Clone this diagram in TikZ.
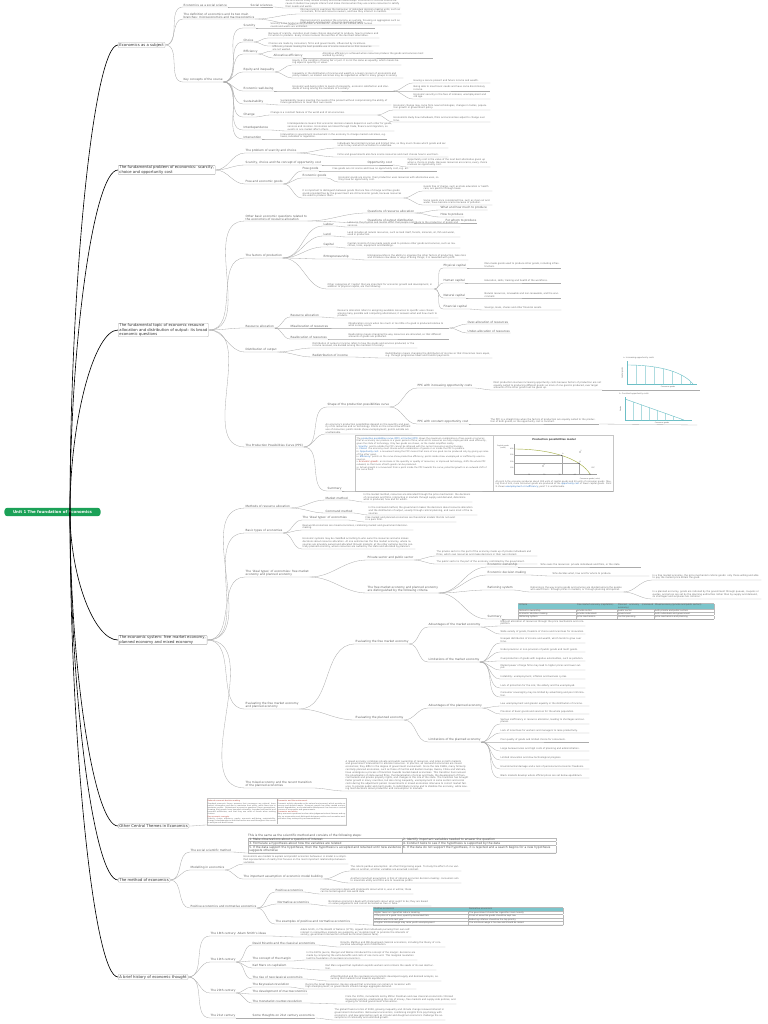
\documentclass[tikz,border=0pt]{standalone}
\usepackage{fontspec}
\setmainfont{DejaVu Sans}
\usepackage{array,colortbl}
\definecolor{mapgreen}{HTML}{1BA157}
\definecolor{mapteal}{HTML}{7CC5CB}
\definecolor{chartteal}{HTML}{6DBFC6}
\definecolor{linkblue}{HTML}{2A6EBB}
\definecolor{ppcolive}{HTML}{A3AE45}
\definecolor{notered}{HTML}{B03A2E}
\arrayrulecolor{gray!55}
\setlength{\tabcolsep}{1.2pt}

\begin{document}
\begin{tikzpicture}[x=0.5mm,y=-0.5mm]
\tikzset{
  rootnode/.style={fill=mapgreen,text=white,rounded corners=4pt,font=\bfseries\fontsize{5.6}{6}\selectfont,minimum width=48mm,minimum height=4.2mm,inner sep=0.5pt},
  topic/.style={draw=gray!60,fill=white,rounded corners=1.2pt,line width=0.5pt,font=\fontsize{5.4}{5.9}\selectfont,text=black!80,align=left,anchor=west,inner xsep=1.8pt,inner ysep=1pt},
  subtopic/.style={font=\fontsize{4.1}{4.7}\selectfont,text=black!62,anchor=south west,align=left,inner xsep=0.8pt,inner ysep=0.6pt},
  paranode/.style={subtopic,font=\fontsize{3.3}{3.95}\selectfont,text=black!58,text width=#1},
  paranode/.default=52mm,
  tablenode/.style={anchor=south west,inner sep=0pt,align=left,text=black!68,font=\fontsize{3}{3.6}\selectfont},
  trunk/.style={black,line width=0.9pt},
  twig/.style={gray!65,line width=0.45pt},
  chartline/.style={chartteal,line width=0.45pt},
  chartgrid/.style={chartteal!55,line width=0.3pt},
  ticklabel/.style={font=\fontsize{2.4}{2.8}\selectfont,text=black!65,inner sep=0.6pt},
  guide/.style={gray!70,line width=0.25pt,dash pattern=on 0.6pt off 0.5pt}
}
\fill[white] (0,0) rectangle (768,1024);
\useasboundingbox (0,0) rectangle (768,1024);

\node[rootnode] (root) at (52.5,512) {Unit 1 The foundation of Economics};
\coordinate (hub) at (70,512);

\node[topic] (t_subject) at (118,45) {Economics as a subject};
\node[topic] (t_problem) at (118,170) {The fundamental problem of economics: scarcity,\\choice and opportunity cost};
\node[topic] (t_alloc) at (118,330) {The fundamental topic of economic resource\\allocation and distribution of output: its broad\\economic questions};
\node[topic] (t_system) at (118,640) {The economic system: free market economy,\\planned economy and mixed economy};
\node[topic] (t_themes) at (118,826) {Other Central Themes in Economics};
\node[topic] (t_method) at (118,880) {The method of economics};
\node[topic] (t_history) at (118,977) {A brief history of economic thought};

\foreach \t/\c in {t_subject/278,t_problem/341,t_alloc/421,t_system/576,t_themes/669,t_method/696,t_history/744}
  \draw[trunk] (hub) .. controls (70,\c) and ([xshift=-12mm]\t.west) .. (\t.west);

\node[subtopic] (s_socsci) at (183,7) {Economics as a social science};
\node[subtopic] (s_socsc2) at (250,7) {Social sciences};
\node[paranode=57mm] (p_socsci) at (285,8) {Social sciences study human society and social relationships. Economics is a social science because it studies how people interact and make choices when they use scarce resources to satisfy their needs and wants.};
\node[subtopic] (s_defn) at (183,19) {The definition of economics and its two main\\branches: microeconomics and macroeconomics};
\node[paranode=50mm] (p_micro) at (300,14) {Microeconomics examines the behaviour of individual decision-making units, such as consumers, firms and resource owners, and how they interact in markets.};
\node[paranode=50mm] (p_macro) at (300,25) {Macroeconomics examines the economy as a whole, focusing on aggregates such as total output, employment, the price level and growth.};
\node[subtopic] (s_key) at (183,82) {Key concepts of the course};
\node[subtopic] (k_scar) at (243,28) {Scarcity};
\node[paranode=52mm] (p_scar) at (270,28) {Scarcity is the fundamental problem of economics: resources are limited, while human needs and wants are unlimited.};
\node[subtopic] (k_choice) at (243,42) {Choice};
\node[paranode=55mm] (p_choice1) at (268,38) {Because of scarcity, societies must make choices about what to produce, how to produce and for whom to produce. Every choice involves the sacrifice of the next best alternative.};
\node[paranode=55mm] (p_choice2) at (268,46) {Choices are made by consumers, firms and governments, influenced by incentives.};
\node[subtopic] (k_eff) at (243,54) {Efficiency};
\node[paranode=50mm] (p_eff) at (272,51) {Efficiency means making the best possible use of scarce resources so that resources are not wasted.};
\node[subtopic] (k_alloceff) at (273,58) {Allocative efficiency};
\node[paranode=55mm] (p_alloceff) at (322,58) {Allocative efficiency is achieved when resources produce the goods and services most wanted by society.};
\node[subtopic] (k_equity) at (243,72) {Equity and inequality};
\node[paranode=54mm] (p_eq1) at (292,65) {Equity is the condition of being fair or just. It is not the same as equality, which means being equal in quantity or value.};
\node[paranode=55mm] (p_eq2) at (292,78) {Inequality in the distribution of income and wealth is a major concern of economists and policy-makers, as market outcomes may be regarded as unfair to many groups in society.};
\node[subtopic] (k_well) at (243,91) {Economic well-being};
\node[paranode=50mm] (p_well) at (292,91) {Economic well-being refers to levels of prosperity, economic satisfaction and standards of living among the members of a society.};
\node[paranode=38mm] (p_well1) at (413,83) {Having a secure present and future income and wealth.};
\node[paranode=38mm] (p_well2) at (413,91) {Being able to meet basic needs and have some discretionary income.};
\node[paranode=38mm] (p_well3) at (413,99) {Economic security in the face of sickness, unemployment and old age.};
\node[subtopic] (k_sust) at (243,104) {Sustainability};
\node[paranode=55mm] (p_sust) at (280,105) {Sustainability means meeting the needs of the present without compromising the ability of future generations to meet their own needs.};
\node[subtopic] (k_change) at (243,117) {Change};
\node[paranode=53mm] (p_change) at (270,115) {Change is a constant feature of the world and of all economies.};
\node[paranode=48mm] (p_ch1) at (393,110) {Economic change may come from new technologies, changes in tastes, population growth or government policy.};
\node[paranode=48mm] (p_ch2) at (393,122) {Economists study how individuals, firms and economies adjust to change over time.};
\node[subtopic] (k_inter) at (243,130) {Interdependence};
\node[paranode=53mm] (p_inter) at (287,131) {Interdependence means that economic decision-makers depend on each other for goods, services and incomes. Economies are linked through trade, finance and migration, so events in one market affect others.};
\node[subtopic] (k_interv) at (243,139) {Intervention};
\node[paranode=53mm] (p_interv) at (280,139) {Intervention is government involvement in the economy to change market outcomes, e.g. taxes, subsidies or regulation.};

\node[subtopic] (c_indiv) at (245,153) {The problem of scarcity and choice};
\node[paranode=55mm] (p_indiv1) at (337,148) {Individuals face limited incomes and limited time, so they must choose which goods and services to buy and which activities to undertake.};
\node[paranode=55mm] (p_indiv2) at (337,157) {Firms and governments also face scarce resources and must choose how to use them.};
\node[subtopic] (c_opp) at (245,165) {Scarcity, choice and the concept of opportunity cost};
\node[subtopic] (c_oppcost) at (367,165) {Opportunity cost};
\node[paranode=41mm] (p_opp) at (407,167) {Opportunity cost is the value of the next best alternative given up when a choice is made. Because resources are scarce, every choice involves an opportunity cost.};
\node[subtopic] (c_goods) at (245,184) {Free and economic goods};
\node[subtopic] (g_free) at (302,171) {Free goods};
\node[paranode=52mm] (p_free) at (332,171) {Free goods are not scarce and have no opportunity cost, e.g. air.};
\node[subtopic] (g_econ) at (302,178) {Economic goods};
\node[paranode=50mm] (p_econ) at (338,182) {Economic goods are scarce: their production uses resources with alternative uses, so they have an opportunity cost.};
\node[paranode=50mm] (p_distinct) at (302,198) {It is important to distinguish between goods that are free of charge and free goods: goods provided free by the government are still economic goods, because resources are used to produce them.};
\node[paranode=34mm] (p_d1) at (423,191) {Goods free of charge, such as state education or health care, are paid for through taxes.};
\node[paranode=34mm] (p_d2) at (423,205) {Some goods once considered free, such as clean air and water, have become scarce because of pollution.};

\node[subtopic] (q_basic) at (245,221) {Other basic economic questions related to\\the economics of resource allocation};
\node[subtopic] (q_alloc) at (367,213) {Questions of resource allocation};
\node[subtopic] (q_what) at (440,210) {What and how much to produce};
\node[subtopic] (q_how) at (440,217) {How to produce};
\node[subtopic] (q_dist) at (367,223) {Questions of output distribution};
\node[subtopic] (q_whom) at (445,223) {For whom to produce};
\node[subtopic] (f_factors) at (245,258) {The factors of production};
\node[subtopic] (f_labour) at (323,226) {Labour};
\node[paranode=56mm] (p_labour) at (347,227) {Labour is the physical and mental effort that people contribute to the production of goods and services.};
\node[subtopic] (f_land) at (323,236) {Land};
\node[paranode=56mm] (p_land) at (347,237) {Land includes all natural resources, such as land itself, forests, minerals, oil, fish and water, used in production.};
\node[subtopic] (f_capital) at (323,247) {Capital};
\node[paranode=56mm] (p_capital) at (347,248) {Capital consists of man-made goods used to produce other goods and services, such as machines, tools, equipment and buildings.};
\node[subtopic] (f_entre) at (323,259) {Entrepreneurship};
\node[paranode=50mm] (p_entre) at (367,260) {Entrepreneurship is the ability to organise the other factors of production, take risks and introduce new ideas or ways of doing things; it is rewarded with profit.};
\node[paranode=53mm] (p_other) at (327,289) {Other categories of `capital' that are important for economic growth and development, in addition to physical capital, are the following:};
\node[subtopic] (f_phys) at (443,268) {Physical capital};
\node[paranode=38mm] (p_phys) at (484,268) {Man-made goods used to produce other goods, including infrastructure.};
\node[subtopic] (f_human) at (443,283) {Human capital};
\node[paranode=38mm] (p_human) at (484,283) {Education, skills, training and health of the workforce.};
\node[subtopic] (f_nat) at (443,298) {Natural capital};
\node[paranode=38mm] (p_nat) at (484,298) {Natural resources, renewable and non-renewable, and the environment.};
\node[subtopic] (f_fin) at (443,309) {Financial capital};
\node[paranode=38mm] (p_fin) at (484,310) {Savings, loans, shares and other financial assets.};

\node[subtopic] (r_alloc) at (245,328) {Resource allocation};
\node[subtopic] (r_res) at (290,317) {Resource allocation};
\node[paranode=50mm] (p_res) at (337,318) {Resource allocation refers to assigning available resources to specific uses chosen among many possible and competing alternatives; it answers what and how much to produce.};
\node[subtopic] (r_mis) at (290,328) {Misallocation of resources};
\node[paranode=50mm] (p_mis) at (348,328) {Misallocation occurs when too much or too little of a good is produced relative to what society wants.};
\node[subtopic] (r_over) at (467,324) {Over-allocation of resources};
\node[subtopic] (r_under) at (467,333) {Under-allocation of resources};
\node[subtopic] (r_realloc) at (290,339) {Reallocation of resources};
\node[paranode=50mm] (p_realloc) at (348,339) {Reallocation means changing the way resources are allocated, so that different amounts of goods are produced.};
\node[subtopic] (d_dist) at (245,352) {Distribution of output};
\node[paranode=52mm] (p_dist) at (312,348) {Distribution of output or income refers to how the goods and services produced, or the income received, are divided among the members of society.};
\node[subtopic] (d_redist) at (312,357) {Redistribution of income};
\node[paranode=53mm] (p_redist) at (385,358) {Redistribution means changing the distribution of income so that it becomes more equal, e.g. through progressive taxes and transfer payments.};

\node[subtopic] (ppc) at (245,447) {The Production Possibilities Curve (PPC)};
\node[subtopic] (ppc_shape) at (327,407) {Shape of the production possibilities curve};
\node[subtopic] (ppc_inc) at (417,388) {PPC with increasing opportunity costs};
\node[paranode=54mm] (p_inc) at (493,390) {Most production involves increasing opportunity costs because factors of production are not equally suited to producing different goods; as more of one good is produced, ever larger amounts of the other good must be given up.};
\node[subtopic] (ppc_const) at (417,424) {PPC with constant opportunity cost};
\node[paranode=54mm] (p_const) at (490,424) {The PPC is a straight line when the factors of production are equally suited to the production of both goods, so the opportunity cost is constant.};
\node[paranode=43mm] (p_ppc) at (325,434) {An economy's production possibilities depend on the quantity and quality of its resources and on technology. Points on the curve show efficient use of resources; points inside show unemployment; points outside are unattainable.};
\node[subtopic] (ppc_sum) at (327,491) {Summary};
\node[draw=gray!45,line width=0.4pt,anchor=south west,minimum width=129mm,minimum height=28mm,inner sep=0pt] (box_ppc) at (355,491) {};
\node[paranode=66mm,anchor=north west,font=\fontsize{3.1}{3.75}\selectfont] (ppc_text) at (356,437) {The \textcolor{linkblue}{production possibilities curve (PPC) or frontier (PPF)} shows the maximum combinations of two goods or services that an economy can produce in a given period of time, when all its resources are fully employed and used efficiently, given the state of technology. Only two goods are shown, so the model simplifies reality.\\
i.\ \textcolor{linkblue}{Scarcity}: points outside the PPC cannot be attained with the current resources and technology.\\
ii.\ \textcolor{linkblue}{Choice}: the economy must choose which combination of goods on or inside the PPC to produce.\\
iii.\ \textcolor{linkblue}{Opportunity cost}: a movement along the PPC means that more of one good can be produced only by giving up some of the other good.\\
iv.\ \textcolor{linkblue}{Efficiency}: points on the curve show productive efficiency; points inside show unemployed or inefficiently used resources.\\
v.\ \textcolor{notered}{Economic growth}: an increase in the quantity or quality of resources, or improved technology, shifts the whole PPC outward, so that more of both goods can be produced.\\
vi.\ Actual growth is a movement from a point inside the PPC towards the curve; potential growth is an outward shift of the curve itself.};
\draw[gray!45,line width=0.4pt] (493,435) -- (493,491);
\node[font=\bfseries\fontsize{3.6}{4}\selectfont,text=black!75] (ppc_title) at (554,440) {Production possibilities model};
\node[ticklabel,align=center] (ppc_ylab) at (503,447) {Capital goods\\(units)};
\coordinate (ax_o) at (514,474);
\draw[gray!75,line width=0.4pt] (514,444) -- (ax_o) -- (597,474);
\draw[ppcolive,line width=0.6pt] (514,449) .. controls (550,449) and (580,458) .. (590,474) coordinate[pos=0.5] (pp_a) coordinate[pos=0.75] (pp_b);
\foreach \v/\yy in {100/467.75,200/461.5,300/455.25,400/449}
  \node[ticklabel,anchor=east] (ty\v) at (514,\yy) {\v};
\foreach \v/\xx in {10/529.2,20/544.4,30/559.6,40/574.8,50/590}
  \node[ticklabel,anchor=north] (tx\v) at (\xx,474) {\v};
\draw[guide] (pp_a) -- (pp_a -| ax_o);
\draw[guide] (pp_a) -- (pp_a |- ax_o);
\draw[guide] (pp_b) -- (pp_b -| ax_o);
\draw[guide] (pp_b) -- (pp_b |- ax_o);
\fill[black!70] (pp_a) circle[radius=0.35mm];
\fill[black!70] (pp_b) circle[radius=0.35mm];
\fill[black!70] (543,466) coordinate (pp_x) circle[radius=0.35mm];
\fill[black!70] (580,452) coordinate (pp_y) circle[radius=0.35mm];
\node[ticklabel,anchor=south west] (lab_a) at (pp_a) {A};
\node[ticklabel,anchor=south west] (lab_b) at (pp_b) {B};
\node[ticklabel,anchor=south west] (lab_x) at (pp_x) {X};
\node[ticklabel,anchor=south west] (lab_y) at (pp_y) {Y};
\node[ticklabel,anchor=west] (lab_ppc) at (591,468) {PPC};
\node[ticklabel] (ppc_xlab) at (590,479) {Consumer goods (units)};
\node[paranode=58mm,anchor=north west,font=\fontsize{3.1}{3.75}\selectfont] (ppc_caption) at (495,480) {At point A the economy produces about 300 units of capital goods and 30 units of consumer goods. Moving from A to B, more consumer goods are produced at the \textcolor{linkblue}{opportunity cost} of fewer capital goods. Point X shows \textcolor{linkblue}{unemployment or inefficiency}; point Y is unattainable.};

\node[font=\fontsize{2.8}{3}\selectfont,text=black!60,anchor=west] (cap_inc) at (621,358) {a\ \ Increasing opportunity costs};
\draw[chartline] (627,361) -- (627,384) -- (697,384);
\begin{scope}
  \clip (627,384) -- (627,365) .. controls (662,365) and (684,373) .. (693,384) -- cycle;
  \foreach \gx in {636,645,...,690} \draw[chartgrid] (\gx,360) -- (\gx,386);
\end{scope}
\draw[chartline,line width=0.6pt] (627,365) .. controls (662,365) and (684,373) .. (693,384);
\node[ticklabel,rotate=90] (lab_cap1) at (622.5,373) {Capital goods};
\node[ticklabel] (lab_con1) at (668,387) {Consumer goods};
\node[font=\fontsize{2.8}{3}\selectfont,text=black!60,anchor=west] (cap_const) at (617,394) {b\ \ Constant opportunity costs};
\draw[chartline] (625,397) -- (625,420) -- (692,420);
\begin{scope}
  \clip (625,420) -- (625,399) -- (684,420) -- cycle;
  \foreach \gx in {633,641,...,684} \draw[chartgrid] (\gx,396) -- (\gx,421);
\end{scope}
\draw[chartline,line width=0.6pt] (625,399) -- (684,420);
\node[ticklabel,rotate=90] (lab_cap2) at (620.5,409) {Goods};
\node[ticklabel] (lab_con2) at (662,423) {Consumer goods};
\coordinate (inc_end) at (700,390);
\coordinate (const_end) at (697,425);
\draw[twig] (p_inc.south east) -- (inc_end);
\draw[twig] (p_const.south east) -- (const_end);

\node[subtopic] (m_methods) at (245,508) {Methods of resource allocation};
\node[subtopic] (m_market) at (325,500) {Market method};
\node[paranode=54mm] (p_market) at (363,502) {In the market method, resources are allocated through the price mechanism: the decisions of consumers and firms, interacting in markets through supply and demand, determine what is produced, how and for whom.};
\node[subtopic] (m_command) at (325,513) {Command method};
\node[paranode=54mm] (p_command) at (368,515) {In the command method, the government makes the decisions about resource allocation and the distribution of output, usually through central planning, and owns most of the resources.};
\node[subtopic] (b_types) at (245,533) {Basic types of economies};
\node[subtopic] (b_ideal) at (302,520) {The `ideal types' of economies};
\node[paranode=45mm] (p_ideal) at (365,522) {Free market and planned economies are theoretical models that do not exist in a pure form.};
\node[paranode=55mm] (p_types1) at (302,530) {Real-world economies are mixed economies, combining market and government decision-making.};
\node[paranode=56mm] (p_types2) at (302,549) {Economic systems may be classified according to who owns the resources and who makes decisions about resource allocation. At one extreme lies the free market economy, where resources are privately owned and allocated through markets; at the other extreme lies the centrally planned economy, where resources are owned by the state and allocated by planners.};
\node[subtopic] (f_ideal) at (245,577) {The `ideal types' of economies: free market\\economy and planned economy};
\node[subtopic] (f_sector) at (367,560) {Private sector and public sector};
\node[paranode=50mm] (p_priv) at (436,556) {The private sector is the part of the economy made up of private individuals and firms, which own resources and make decisions in their own interest.};
\node[paranode=50mm] (p_pub) at (436,564) {The public sector is the part of the economy controlled by the government.};
\node[subtopic] (f_compare) at (367,593) {The free market economy and planned economy\\are distinguished by the following criteria};
\node[subtopic] (f_own) at (487,567) {Economic ownership};
\node[paranode=50mm] (p_own) at (540,567) {Who owns the resources: private individuals and firms, or the state.};
\node[subtopic] (f_dec) at (487,575) {Economic decision making};
\node[paranode=48mm] (p_dec) at (552,576) {Who decides what, how and for whom to produce.};
\node[subtopic] (f_ration) at (487,590) {Rationing system};
\node[paranode=46mm] (p_ration) at (530,592) {Rationing is the way scarce goods and services are divided among the people who want them: through prices in markets, or through planning and quotas.};
\node[paranode=54mm] (p_r1) at (652,580) {In a free market economy, the price mechanism rations goods: only those willing and able to pay the market price obtain the good.};
\node[paranode=54mm] (p_r2) at (652,599) {In a planned economy, goods are rationed by the government through queues, coupons or quotas, and prices are set by the planning authorities rather than by supply and demand, so shortages and surpluses are common.};
\node[subtopic] (f_summary) at (487,619) {Summary};
\node[tablenode] (tbl_sys) at (518,619) {\renewcommand\arraystretch{1.15}\begin{tabular}{|p{28mm}|p{19.5mm}|p{17.5mm}|p{29mm}|}\hline
\rowcolor{mapteal} Criteria & Free market economy (capitalism) & Planned economy (command economy) & Mixed economy (private and public sectors)\\\hline
Resource ownership & private sector & public sector & both private and public sectors\\\hline
Economic decision making & private individuals & government & both individuals and government\\\hline
Rationing system & price mechanism & central planning & price mechanism and planning\\\hline
\end{tabular}};
\node[subtopic] (e_eval) at (245,709) {Evaluating the free market economy\\and planned economy};
\node[subtopic] (e_free) at (355,644) {Evaluating the free market economy};
\node[subtopic] (e_fadv) at (428,627) {Advantages of the market economy};
\node[paranode=42mm] (p_fa1) at (500,626) {Efficient allocation of resources through the price mechanism and competition.};
\node[paranode=42mm] (p_fa2) at (500,634) {Wide variety of goods, freedom of choice and incentives for innovation.};
\node[subtopic] (e_flim) at (428,662) {Limitations of the market economy};
\node[paranode=42mm] (p_fl1) at (500,643) {Unequal distribution of income and wealth, which tends to grow over time.};
\node[paranode=42mm] (p_fl2) at (500,652) {Under-provision or non-provision of public goods and merit goods.};
\node[paranode=42mm] (p_fl3) at (500,661) {Overproduction of goods with negative externalities, such as pollution.};
\node[paranode=42mm] (p_fl4) at (500,670) {Market power of large firms may lead to higher prices and lower output.};
\node[paranode=42mm] (p_fl5) at (500,679) {Instability: unemployment, inflation and business cycles.};
\node[paranode=42mm] (p_fl6) at (500,688) {Lack of protection for the sick, the elderly and the unemployed.};
\node[paranode=42mm] (p_fl7) at (500,697) {Consumer sovereignty may be limited by advertising and poor information.};
\node[subtopic] (e_plan) at (355,720) {Evaluating the planned economy};
\node[subtopic] (e_padv) at (428,708) {Advantages of the planned economy};
\node[paranode=44mm] (p_pa1) at (500,706) {Low unemployment and greater equality in the distribution of income.};
\node[paranode=44mm] (p_pa2) at (500,714) {Provision of basic goods and services for the whole population.};
\node[subtopic] (e_plim) at (428,742) {Limitations of the planned economy};
\node[paranode=44mm] (p_pl1) at (500,724) {Serious inefficiency in resource allocation, leading to shortages and surpluses.};
\node[paranode=44mm] (p_pl2) at (500,733) {Lack of incentives for workers and managers to raise productivity.};
\node[paranode=44mm] (p_pl3) at (500,742) {Poor quality of goods and limited choice for consumers.};
\node[paranode=44mm] (p_pl4) at (500,751) {Large bureaucracies and high costs of planning and administration.};
\node[paranode=44mm] (p_pl5) at (500,760) {Limited innovation and slow technological progress.};
\node[paranode=44mm] (p_pl6) at (500,769) {Environmental damage and a lack of personal and economic freedoms.};
\node[paranode=44mm] (p_pl7) at (500,778) {Black markets develop where official prices are set below equilibrium.};
\node[subtopic] (x_mixed) at (245,788) {The mixed economy and the recent transition\\of the planned economies};
\node[paranode=62mm] (p_mixed) at (345,791) {A mixed economy combines private and public ownership of resources, and relies on both markets and government intervention to allocate resources. In practice, all real-world economies are mixed economies; they differ in the degree of government involvement. Since the late 1980s, many formerly centrally planned economies, such as those of Central and Eastern Europe, Russia, China and Vietnam, have undergone a process of transition towards market-based economies. This transition has involved the privatisation of state-owned firms, the liberalisation of prices and trade, the development of financial markets and private property rights, and changes in the role of the state. The transition has brought faster growth in many countries, but also rising inequality, unemployment in some sectors and social costs during the adjustment period. Governments in mixed economies intervene to correct market failures, to provide public and merit goods, to redistribute income and to stabilise the economy, while leaving most decisions about production and consumption to markets.};

\node[draw=gray!45,line width=0.3pt,anchor=south west,inner sep=0.8pt,font=\fontsize{2.6}{3.1}\selectfont,text=black!60] (o_themes) at (207,825) {\begin{tabular}{@{}p{34mm}|p{34mm}@{}}
{\color{notered}Rational economic decision making}\newline Standard economic theory assumes that consumers are rational, have perfect information and aim to maximise their utility, while firms aim to maximise profits. Behavioural economics questions these assumptions, showing that people have bounded rationality, bounded self-control and bounded selfishness, and that they use rules of thumb when making choices.\newline {\color{notered}Key economic concepts}\newline Scarcity, choice, efficiency, equity, economic well-being, sustainability, change, interdependence and intervention are used throughout the course to analyse real-world issues. &
{\color{notered}Economics and the environment}\newline Economic activity depends on the natural environment, which provides resources and absorbs waste. Economic growth has often caused environmental degradation, and sustainable development has become a central concern of economists and governments.\newline {\color{notered}Economics and ethics}\newline Many economic questions involve value judgements about fairness and equity, so economists must distinguish between positive and normative analysis when they make policy recommendations.
\end{tabular}};

\node[subtopic] (me_sci) at (190,852) {The social scientific method};
\node[tablenode,font=\fontsize{4.2}{5}\selectfont] (tbl_steps) at (248,853) {This is the same as the scientific method and consists of the following steps:\\
\begin{tabular}{|p{76mm}|p{76mm}|}\hline
1.\ Make observations about a question of interest & 2.\ Identify important variables needed to answer the question\\\hline
3.\ Formulate a hypothesis about how the variables are related & 4.\ Conduct tests to see if the hypothesis is supported by the data\\\hline
5.\ If the data support the hypothesis, then the hypothesis is accepted and retained until new evidence suggests otherwise & 6.\ If the data do not support the hypothesis, it is rejected and a search begins for a new hypothesis\\\hline
\end{tabular}};
\node[subtopic] (me_model) at (190,870) {Modelling in economics};
\node[paranode=52mm] (p_model) at (243,864) {Economists use models to explain and predict economic behaviour. A model is a simplified representation of reality that focuses on the most important relationships between variables.};
\node[subtopic] (me_assume) at (243,879) {The important assumption of economic model building};
\node[paranode=55mm] (p_assume1) at (350,871) {The ceteris paribus assumption: all other things being equal. To study the effect of one variable on another, all other variables are assumed constant.};
\node[paranode=55mm] (p_assume2) at (350,883) {Another important assumption is that of rational economic decision-making: consumers aim to maximise utility and firms aim to maximise profits.};
\node[subtopic] (me_pos) at (190,908) {Positive economics and normative economics};
\node[subtopic] (me_posec) at (275,892) {Positive economics};
\node[paranode=46mm] (p_pos) at (320,894) {Positive economics deals with statements about what is, was or will be; these can be tested against real-world data.};
\node[subtopic] (me_norm) at (277,904) {Normative economics};
\node[paranode=51mm] (p_norm) at (328,906) {Normative economics deals with statements about what ought to be; they are based on value judgements and cannot be tested as true or false.};
\node[subtopic] (me_ex) at (275,924) {The examples of positive and normative economics};
\node[tablenode] (tbl_pn) at (373,925) {\renewcommand\arraystretch{1.25}\begin{tabular}{|p{46.5mm}|p{46.5mm}|}\hline
\rowcolor{mapteal} Positive economics & Normative economics\\\hline
Higher taxes on cigarettes reduce smoking & The government should tax cigarettes more heavily\\\hline
If the price of a good rises, quantity demanded falls & Prices of essential goods should be kept low\\\hline
Inflation was 3.2\% last year & Reducing inflation should be the top priority\\\hline
A higher minimum wage may raise youth unemployment & The minimum wage is too low and should be raised\\\hline
\end{tabular}};

\node[subtopic] (h18) at (210,936) {The 18th century: Adam Smith's ideas};
\node[paranode=55mm] (p_h18) at (300,937) {Adam Smith, in The Wealth of Nations (1776), argued that individuals pursuing their own self-interest in competitive markets are guided by an `invisible hand' to promote the interests of society; government intervention should be minimal (laissez faire).};
\node[subtopic] (h19) at (210,962) {The 19th century};
\node[subtopic] (h19a) at (252,945) {David Ricardo and the classical economists};
\node[paranode=52mm] (p_h19a) at (340,947) {Ricardo, Malthus and Mill developed classical economics, including the theory of comparative advantage and of distribution.};
\node[subtopic] (h19b) at (252,961) {The concept of the margin};
\node[paranode=55mm] (p_h19b) at (306,960) {In the 1870s Jevons, Menger and Walras introduced the concept of the margin: decisions are made by comparing the extra benefits and costs of one more unit. This marginal revolution laid the foundation of neoclassical economics.};
\node[subtopic] (h19c) at (252,968) {Karl Marx on capitalism};
\node[paranode=55mm] (p_h19c) at (325,970) {Karl Marx argued that capitalism exploits workers and contains the seeds of its own destruction.};
\node[subtopic] (h19d) at (252,979) {The rise of neoclassical economics};
\node[paranode=55mm] (p_h19d) at (330,981) {Alfred Marshall and the neoclassical economists developed supply and demand analysis, assuming that markets tend towards equilibrium.};
\node[subtopic] (h20) at (210,993) {The 20th century};
\node[subtopic] (h20a) at (252,987) {The Keynesian revolution};
\node[paranode=55mm] (p_h20a) at (305,989) {During the Great Depression, Keynes argued that economies can remain in recession with high unemployment, so governments should manage aggregate demand.};
\node[subtopic] (h20b) at (252,994) {The development of macroeconomics};
\node[subtopic] (h20c) at (252,1003) {The monetarist counter-revolution};
\node[paranode=55mm] (p_h20c) at (345,1004) {From the 1970s, monetarists led by Milton Friedman and new classical economists criticised Keynesian policies, emphasising the role of money, free markets and supply-side policies, and arguing for limited government intervention.};
\node[subtopic] (h21) at (210,1018) {The 21st century};
\node[subtopic] (h21a) at (252,1018) {Some thoughts on 21st century economics};
\node[paranode=55mm] (p_h21) at (334,1020) {The global financial crisis of 2008, growing inequality and climate change renewed interest in government intervention. Behavioural economics, combining insights from psychology with economics, and new approaches such as circular and doughnut economics challenge the assumptions of rationality and unlimited growth.};

\foreach \a/\b in {t_subject/s_socsci,t_subject/s_defn,t_subject/s_key,
  t_problem/c_indiv,t_problem/c_opp,t_problem/c_goods,
  t_alloc/q_basic,t_alloc/f_factors,t_alloc/r_alloc,t_alloc/d_dist,t_alloc/ppc,
  t_system/m_methods,t_system/b_types,t_system/f_ideal,t_system/e_eval,t_system/x_mixed,
  t_themes/o_themes,t_method/me_sci,t_method/me_model,t_method/me_pos,
  t_history/h18,t_history/h19,t_history/h20,t_history/h21}
  \draw[twig] (\a.east) to[out=0,in=180] (\b.south west) -- (\b.south east);
\foreach \a/\b in {s_socsci/s_socsc2,s_socsc2/p_socsci,s_defn/p_micro,s_defn/p_macro,
  s_key/k_scar,k_scar/p_scar,s_key/k_choice,k_choice/p_choice1,k_choice/p_choice2,
  s_key/k_eff,k_eff/p_eff,k_eff/k_alloceff,k_alloceff/p_alloceff,
  s_key/k_equity,k_equity/p_eq1,k_equity/p_eq2,s_key/k_well,k_well/p_well,
  p_well/p_well1,p_well/p_well2,p_well/p_well3,s_key/k_sust,k_sust/p_sust,
  s_key/k_change,k_change/p_change,p_change/p_ch1,p_change/p_ch2,
  s_key/k_inter,k_inter/p_inter,s_key/k_interv,k_interv/p_interv}
  \draw[twig] (\a.south east) to[out=0,in=180] (\b.south west) -- (\b.south east);
\foreach \a/\b in {c_indiv/p_indiv1,c_indiv/p_indiv2,c_opp/c_oppcost,c_oppcost/p_opp,
  c_goods/g_free,g_free/p_free,c_goods/g_econ,g_econ/p_econ,c_goods/p_distinct,
  p_distinct/p_d1,p_distinct/p_d2,
  q_basic/q_alloc,q_alloc/q_what,q_alloc/q_how,q_basic/q_dist,q_dist/q_whom,
  f_factors/f_labour,f_labour/p_labour,f_factors/f_land,f_land/p_land,
  f_factors/f_capital,f_capital/p_capital,f_factors/f_entre,f_entre/p_entre,
  f_factors/p_other,p_other/f_phys,f_phys/p_phys,p_other/f_human,f_human/p_human,
  p_other/f_nat,f_nat/p_nat,p_other/f_fin,f_fin/p_fin,
  r_alloc/r_res,r_res/p_res,r_alloc/r_mis,r_mis/p_mis,p_mis/r_over,p_mis/r_under,
  r_alloc/r_realloc,r_realloc/p_realloc,d_dist/p_dist,d_dist/d_redist,d_redist/p_redist,
  ppc/ppc_shape,ppc_shape/ppc_inc,ppc_inc/p_inc,ppc_shape/ppc_const,ppc_const/p_const,
  ppc/p_ppc,ppc/ppc_sum,ppc_sum/box_ppc}
  \draw[twig] (\a.south east) to[out=0,in=180] (\b.south west) -- (\b.south east);
\foreach \a/\b in {m_methods/m_market,m_market/p_market,m_methods/m_command,m_command/p_command,
  b_types/b_ideal,b_ideal/p_ideal,b_types/p_types1,b_types/p_types2,
  f_ideal/f_sector,f_sector/p_priv,f_sector/p_pub,f_ideal/f_compare,
  f_compare/f_own,f_own/p_own,f_compare/f_dec,f_dec/p_dec,f_compare/f_ration,
  f_ration/p_ration,p_ration/p_r1,p_ration/p_r2,f_compare/f_summary,f_summary/tbl_sys,
  e_eval/e_free,e_free/e_fadv,e_fadv/p_fa1,e_fadv/p_fa2,e_free/e_flim,
  e_flim/p_fl1,e_flim/p_fl2,e_flim/p_fl3,e_flim/p_fl4,e_flim/p_fl5,e_flim/p_fl6,e_flim/p_fl7,
  e_eval/e_plan,e_plan/e_padv,e_padv/p_pa1,e_padv/p_pa2,e_plan/e_plim,
  e_plim/p_pl1,e_plim/p_pl2,e_plim/p_pl3,e_plim/p_pl4,e_plim/p_pl5,e_plim/p_pl6,e_plim/p_pl7,
  x_mixed/p_mixed}
  \draw[twig] (\a.south east) to[out=0,in=180] (\b.south west) -- (\b.south east);
\foreach \a/\b in {me_sci/tbl_steps,me_model/p_model,me_model/me_assume,
  me_assume/p_assume1,me_assume/p_assume2,me_pos/me_posec,me_posec/p_pos,
  me_pos/me_norm,me_norm/p_norm,me_pos/me_ex,me_ex/tbl_pn,
  h18/p_h18,h19/h19a,h19a/p_h19a,h19/h19b,h19b/p_h19b,h19/h19c,h19c/p_h19c,
  h19/h19d,h19d/p_h19d,h20/h20a,h20a/p_h20a,h20/h20b,h20/h20c,h20c/p_h20c,
  h21/h21a,h21a/p_h21}
  \draw[twig] (\a.south east) to[out=0,in=180] (\b.south west) -- (\b.south east);
\end{tikzpicture}
\end{document}
